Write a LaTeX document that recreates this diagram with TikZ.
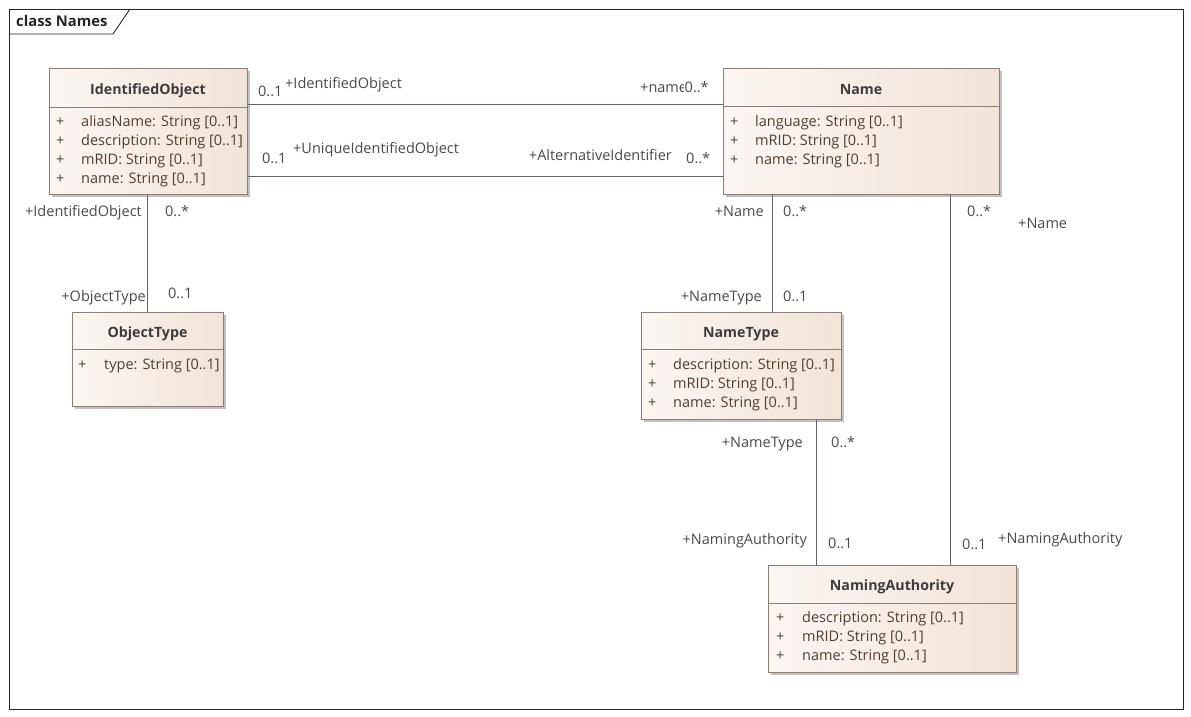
\documentclass[tikz,border=0pt]{standalone}
\usepackage{fontspec}
\setmainfont{Open Sans}
\usetikzlibrary{shadows}
\definecolor{txt}{HTML}{4A4A4A}
\definecolor{ttl}{HTML}{3C3C3C}
\definecolor{attrc}{HTML}{523E2E}
\definecolor{boxdraw}{HTML}{8E7E76}
\definecolor{assocc}{HTML}{5F6170}
\definecolor{fillA}{HTML}{FBF6F2}
\definecolor{fillB}{HTML}{F2E3D7}
\tikzset{
  cls/.style={draw=boxdraw, line width=0.9pt, anchor=north west, inner sep=0pt,
    left color=fillA, right color=fillB,
    drop shadow={shadow xshift=2.5pt, shadow yshift=-2.5pt, fill=black!30, opacity=0.8}},
  sepline/.style={draw=boxdraw, line width=0.9pt},
  ttlstyle/.style={font=\fontsize{14.2}{17}\selectfont\bfseries, text=ttl, inner sep=0pt, anchor=base},
  attrstyle/.style={font=\fontsize{14.5}{17}\selectfont, text=attrc, inner sep=0pt, anchor=base west},
  lbl/.style={font=\fontsize{14.5}{17}\selectfont, text=txt, inner sep=0pt},
  lw/.style={lbl, anchor=base west},
  le/.style={lbl, anchor=base east},
  assoc/.style={draw=assocc, line width=1pt},
}
\begin{document}
\begin{tikzpicture}[x=1pt,y=-1pt]
\useasboundingbox (0,0) rectangle (1191,716);
\fill[white] (0,0) rectangle (1191,716);
% frame
\draw[line width=0.9pt, black!85] (9,9) rectangle (1183,709);
\draw[line width=0.9pt, black!85] (9,34) -- (113,34) -- (130,9);
\node[font=\fontsize{14.8}{17}\selectfont\bfseries, text=black!85, inner sep=0pt, anchor=base west] (frametitle) at (16,26) {class Names};

% classes
\node[cls, minimum width=198pt, minimum height=126pt] (io) at (49,68) {};
\draw[sepline] (49,107) -- (247,107);
\node[ttlstyle] (iot) at (148,94.5) {IdentifiedObject};
\foreach \t [count=\i from 0] in {aliasName: String [0..1],description: String [0..1],mRID: String [0..1],name: String [0..1]}{
  \node[attrstyle] (iop\i) at (56,126.5+19*\i) {+};
  \node[attrstyle] (ioa\i) at (81,126.5+19*\i) {\t};
}

\node[cls, minimum width=276pt, minimum height=126pt] (nm) at (723,68) {};
\draw[sepline] (723,106) -- (999,106);
\node[ttlstyle] (nmt) at (861,94.5) {Name};
\foreach \t [count=\i from 0] in {language: String [0..1],mRID: String [0..1],name: String [0..1]}{
  \node[attrstyle] (nmp\i) at (730,126+19*\i) {+};
  \node[attrstyle] (nma\i) at (755,126+19*\i) {\t};
}

\node[cls, minimum width=151pt, minimum height=94pt] (ot) at (72,312) {};
\draw[sepline] (72,349) -- (223,349);
\node[ttlstyle] (ott) at (147.5,337) {ObjectType};
\node[attrstyle] (otp0) at (78,369) {+};
\node[attrstyle] (ota0) at (104,369) {type: String [0..1]};

\node[cls, minimum width=200pt, minimum height=107pt] (nt) at (641,312) {};
\draw[sepline] (641,349) -- (841,349);
\node[ttlstyle] (ntt) at (741,337) {NameType};
\foreach \t [count=\i from 0] in {description: String [0..1],mRID: String [0..1],name: String [0..1]}{
  \node[attrstyle] (ntp\i) at (648,369+19*\i) {+};
  \node[attrstyle] (nta\i) at (673,369+19*\i) {\t};
}

\node[cls, minimum width=248pt, minimum height=107pt] (na) at (768,565) {};
\draw[sepline] (768,603) -- (1016,603);
\node[ttlstyle] (nat) at (892,590) {NamingAuthority};
\foreach \t [count=\i from 0] in {description: String [0..1],mRID: String [0..1],name: String [0..1]}{
  \node[attrstyle] (nap\i) at (776,622+19*\i) {+};
  \node[attrstyle] (naa\i) at (802,622+19*\i) {\t};
}

% connector helper coordinates
\coordinate (r1) at (0,104);
\coordinate (r2) at (0,176);
\coordinate (c1) at (147.7,0);
\coordinate (c2) at (772.7,0);
\coordinate (c3) at (950.7,0);
\coordinate (c4) at (816.7,0);

\draw[assoc] (io.east |- r1) -- (nm.west |- r1);
\draw[assoc] (io.east |- r2) -- (nm.west |- r2);
\draw[assoc] (io.south -| c1) -- (ot.north -| c1);
\draw[assoc] (nm.south -| c2) -- (nt.north -| c2);
\draw[assoc] (nm.south -| c3) -- (na.north -| c3);
\draw[assoc] (nt.south -| c4) -- (na.north -| c4);

% role and multiplicity labels
\node[lw] (l1) at (258,96) {0..1};
\node[lw] (l2) at (285,88) {+IdentifiedObject};
\node[lw] (l3) at (640,92) {+name};
\node[lw, fill=white, inner xsep=0.5pt] (l4) at (684,92) {0..*};
\node[lw] (l5) at (262,163) {0..1};
\node[lw] (l6) at (293,153) {+UniqueIdentifiedObject};
\node[le] (l7) at (672,160) {+AlternativeIdentifier};
\node[lw] (l8) at (686,163) {0..*};

\node[le] (l9) at (142,216) {+IdentifiedObject};
\node[lw] (l10) at (165,216) {0..*};
\node[le] (l11) at (146,301) {+ObjectType};
\node[lw] (l12) at (168,298) {0..1};

\node[le] (l13) at (764,216) {+Name};
\node[lw] (l14) at (783,216) {0..*};
\node[le] (l15) at (762,301) {+NameType};
\node[lw] (l16) at (783,301) {0..1};

\node[lw] (l17) at (967,216) {0..*};
\node[lw] (l18) at (1018,228) {+Name};

\node[le] (l19) at (803,447) {+NameType};
\node[lw] (l20) at (831,447) {0..*};
\node[le] (l21) at (807,544) {+NamingAuthority};
\node[lw] (l22) at (828,548) {0..1};
\node[lw] (l23) at (962,549) {0..1};
\node[lw] (l24) at (998,543) {+NamingAuthority};
\end{tikzpicture}
\end{document}
